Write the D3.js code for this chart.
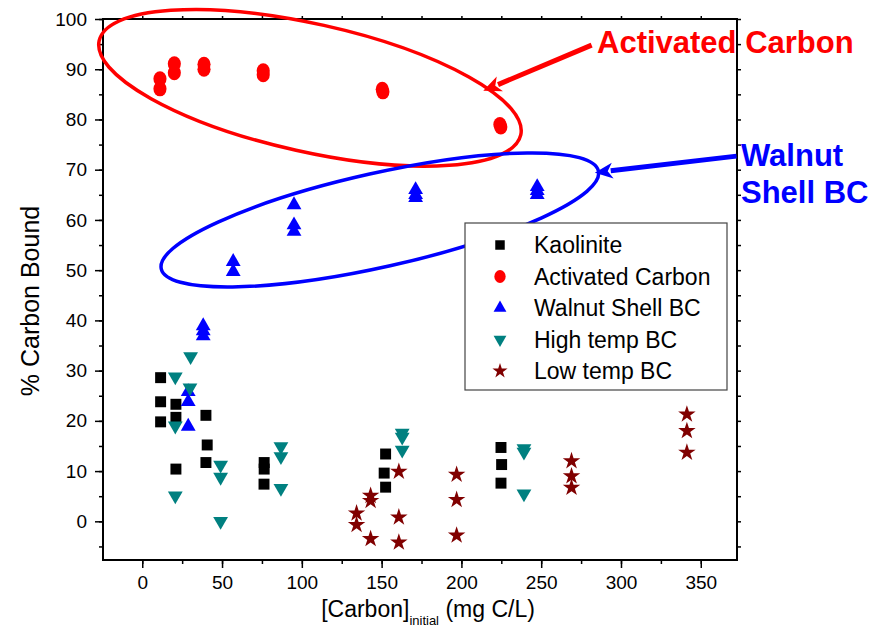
<!DOCTYPE html>
<html>
<head>
<meta charset="utf-8">
<script src="https://cdn.jsdelivr.net/npm/d3@7"></script>
<style>
  body { margin: 0; background: #fff; }
  text { font-family: "Liberation Sans", Arial, sans-serif; }
</style>
</head>
<body>
<svg id="chart" width="883" height="636"></svg>
<script>
// data
const seriesNames = ["Kaolinite", "Activated Carbon", "Walnut Shell BC", "High temp BC", "Low temp BC"];

const kaoliniteX = [11.5, 11.5, 11.5, 21.1, 21.1, 21.1, 39.9, 40.7, 39.9, 76.4, 76.4, 76.3, 152.5, 151.6, 152.5, 224.8, 225.2, 224.8];
const kaoliniteY = [28.6, 23.8, 19.8, 23.3, 20.7, 10.4, 21.1, 15.2, 11.7, 11.7, 10.4, 7.4, 13.4, 9.6, 6.8, 14.7, 11.3, 7.6];

const activatedX = [11.1, 11.1, 20.1, 20.1, 38.7, 38.7, 75.8, 75.8, 150.4, 150.8, 224.1, 224.7];
const activatedY = [88.1, 86.1, 91.1, 89.3, 91.0, 90.0, 89.7, 88.9, 86.0, 85.5, 79.0, 78.5];

const walnutX = [28.8, 28.8, 28.8, 38.2, 38.2, 38.2, 57.0, 57.0, 95.1, 95.1, 95.1, 171.3, 171.3, 171.3, 247.5, 247.5, 247.5];
const walnutY = [25.8, 23.8, 18.9, 38.9, 37.9, 36.9, 51.7, 49.7, 63.0, 59.0, 57.7, 66.0, 65.0, 64.4, 66.6, 65.8, 65.0];

const highTempX = [30.3, 20.7, 29.9, 20.7, 20.7, 49.1, 49.1, 49.1, 86.9, 86.9, 86.9, 162.9, 162.9, 162.9, 239.2, 239.2, 239.2];
const highTempY = [32.8, 28.8, 26.6, 19.0, 5.1, 11.2, 8.8, 0.0, 14.9, 12.9, 6.6, 17.6, 16.8, 14.2, 14.5, 13.8, 5.5];

const lowTempX = [134.3, 134.3, 143.1, 143.1, 143.1, 160.8, 160.8, 160.8, 197.0, 197.0, 197.0, 269.0, 269.0, 269.0, 341.3, 341.3, 341.3];
const lowTempY = [1.6, -0.7, 5.1, 4.1, -3.5, 9.9, 0.8, -4.2, 9.3, 4.3, -2.8, 12.0, 9.0, 6.7, 21.3, 18.0, 13.7];

const xTicks = [0, 50, 100, 150, 200, 250, 300, 350];
const yTicks = [0, 10, 20, 30, 40, 50, 60, 70, 80, 90, 100];

const svg = d3.select("#chart");
const margin = {top: 19, right: 146, bottom: 76, left: 103};
const W = 883 - margin.left - margin.right;
const H = 636 - margin.top - margin.bottom;

const x = d3.scaleLinear().domain([-24.6, 372.7]).range([0, W]);
const y = d3.scaleLinear().domain([-7.7, 100]).range([H, 0]);

const g = svg.append("g").attr("transform", `translate(${margin.left},${margin.top})`);

// axes: major + minor ticks, outward
function styleAxis(sel) {
    sel.selectAll(".domain").remove();
    sel.selectAll("line").attr("stroke", "#000").attr("stroke-width", 1.5);
    sel.selectAll("text").attr("font-size", 19).attr("fill", "#000");
}
const xMinor = d3.range(-25, 375, 25).filter(v => v >= -24.6 && v <= 372.7);
const yMinor = d3.range(-5, 101, 5);

g.append("g").attr("transform", `translate(0,${H})`)
    .call(d3.axisBottom(x).tickValues(xMinor).tickSize(4).tickFormat(""))
    .call(styleAxis);
g.append("g").attr("transform", `translate(0,${H})`)
    .call(d3.axisBottom(x).tickValues(xTicks).tickSize(8).tickPadding(8).tickFormat(d3.format("d")))
    .call(styleAxis);
g.append("g")
    .call(d3.axisLeft(y).tickValues(yMinor).tickSize(4).tickFormat(""))
    .call(styleAxis);
g.append("g")
    .call(d3.axisLeft(y).tickValues(yTicks).tickSize(8).tickPadding(8).tickFormat(d3.format("d")))
    .call(styleAxis);
g.append("g")
    .call(d3.axisTop(x).tickValues(xMinor).tickSize(3).tickFormat(""))
    .call(styleAxis);
g.append("g").attr("transform", `translate(${W},0)`)
    .call(d3.axisRight(y).tickValues(yMinor).tickSize(4).tickFormat(""))
    .call(styleAxis);

g.append("rect")
    .attr("width", W).attr("height", H)
    .attr("fill", "none").attr("stroke", "#000").attr("stroke-width", 2);

// axis titles
svg.append("text")
    .attr("transform", "translate(39,301) rotate(-90)")
    .attr("text-anchor", "middle")
    .attr("font-size", 25)
    .text("% Carbon Bound");

const xt = svg.append("text")
    .attr("x", 428).attr("y", 617)
    .attr("text-anchor", "middle")
    .attr("font-size", 23);
xt.append("tspan").text("[Carbon]");
xt.append("tspan").attr("font-size", 13).attr("dy", 8).text("initial");
xt.append("tspan").attr("dy", -8).text(" (mg C/L)");

// points
const series = [
    {name: seriesNames[0], xs: kaoliniteX, ys: kaoliniteY, color: "#000000", sym: d3.symbolSquare, size: 120, sy: 1},
    {name: seriesNames[1], xs: activatedX, ys: activatedY, color: "#ff0000", sym: d3.symbolCircle, size: 135, sy: 1.15},
    {name: seriesNames[2], xs: walnutX, ys: walnutY, color: "#0000ff", sym: d3.symbolTriangle, size: 95, sy: 1},
    {name: seriesNames[3], xs: highTempX, ys: highTempY, color: "#008080", sym: d3.symbolTriangle, size: 95, sy: -1},
    {name: seriesNames[4], xs: lowTempX, ys: lowTempY, color: "#800000", sym: d3.symbolStar, size: 95, sy: 1}
];

series.forEach(s => {
    const path = d3.symbol().type(s.sym).size(s.size)();
    g.append("g").selectAll("path")
        .data(s.xs.map((v, i) => [v, s.ys[i]]))
        .enter()
        .append("path")
        .attr("d", path)
        .attr("transform", d => `translate(${x(d[0])},${y(d[1])}) scale(1,${s.sy})`)
        .attr("fill", s.color);
});

// legend
const lg = svg.append("g").attr("transform", "translate(465,223)");
lg.append("rect").attr("width", 262).attr("height", 167)
    .attr("fill", "#fff").attr("stroke", "#444").attr("stroke-width", 1.2);
series.forEach((s, i) => {
    const ry = 22 + i * 31.5;
    lg.append("path")
        .attr("d", d3.symbol().type(s.sym).size(s.size * 0.75)())
        .attr("transform", `translate(35,${ry}) scale(1,${s.sy})`)
        .attr("fill", s.color);
    lg.append("text")
        .attr("x", 69).attr("y", ry + 8)
        .attr("font-size", 23)
        .text(s.name);
});

// annotations: ellipses and arrows (centres in data units)
const notes = [
    {color: "#ff0000", cx: 105.1, cy: 86.3, rx: 216, ry: 64, angle: 12.6,
     from: [281.6, 94.8], to: [213.7, 85.7]},
    {color: "#0000ff", cx: 148.9, cy: 60.0, rx: 224, ry: 47, angle: -12.6,
     from: [372.4, 72.7], to: [283.6, 69.4]}
];

notes.forEach(n => {
    g.append("ellipse")
        .attr("transform", `translate(${x(n.cx)},${y(n.cy)}) rotate(${n.angle})`)
        .attr("rx", n.rx).attr("ry", n.ry)
        .attr("fill", "none").attr("stroke", n.color).attr("stroke-width", 3.5);

    const x1 = x(n.from[0]), y1 = y(n.from[1]);
    const x2 = x(n.to[0]), y2 = y(n.to[1]);
    const len = Math.hypot(x2 - x1, y2 - y1);
    const ux = (x2 - x1) / len, uy = (y2 - y1) / len;
    const head = 18, half = 8;
    const bx = x2 - ux * head, by = y2 - uy * head;
    g.append("line")
        .attr("x1", x1).attr("y1", y1).attr("x2", bx + ux * 2).attr("y2", by + uy * 2)
        .attr("stroke", n.color).attr("stroke-width", 5);
    g.append("path")
        .attr("d", `M${x2},${y2} L${bx - uy * half},${by + ux * half} L${bx + ux * 5},${by + uy * 5} L${bx + uy * half},${by - ux * half} Z`)
        .attr("fill", n.color);
});

svg.append("text")
    .attr("x", 597).attr("y", 53)
    .attr("font-size", 31).attr("font-weight", "bold").attr("fill", "#ff0000")
    .text("Activated Carbon");
const wt = svg.append("text")
    .attr("font-size", 31).attr("font-weight", "bold").attr("fill", "#0000ff");
wt.append("tspan").attr("x", 741).attr("y", 166).text("Walnut");
wt.append("tspan").attr("x", 741).attr("y", 203).text("Shell BC");
</script>
</body>
</html>
